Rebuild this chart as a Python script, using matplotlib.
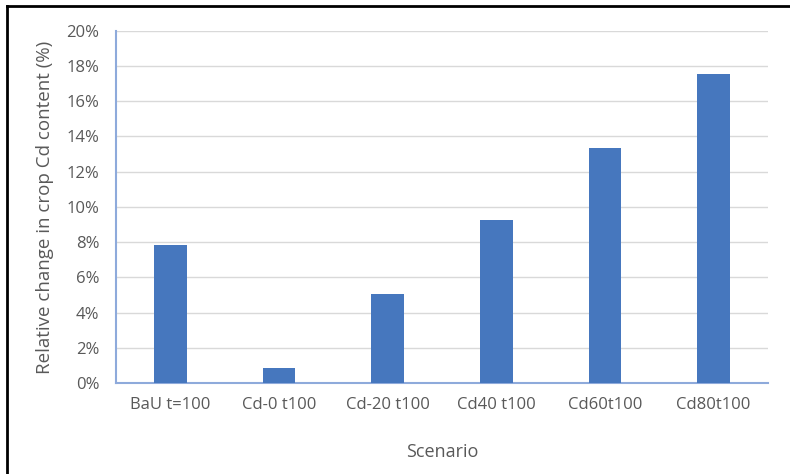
import matplotlib.pyplot as plt
from matplotlib.lines import Line2D
from matplotlib.ticker import PercentFormatter

scenarios = ['BaU t=100', 'Cd-0 t100', 'Cd-20 t100', 'Cd40 t100', 'Cd60t100', 'Cd80t100']
change_pct = [7.85, 0.85, 5.05, 9.25, 13.35, 17.55]
y_ticks = [0, 2, 4, 6, 8, 10, 12, 14, 16, 18, 20]

plt.rcParams['font.family'] = ['Open Sans', 'DejaVu Sans']

fig = plt.figure(figsize=(7.9, 4.74), dpi=100)
ax = fig.add_axes([0.147, 0.192, 0.825, 0.743])

x = range(len(scenarios))
ax.bar(x, change_pct, width=0.3, color='#4677BE', zorder=3)

ax.set_xlim(-0.5, len(scenarios) - 0.5)
ax.set_ylim(0, 20)
ax.set_yticks(y_ticks)
ax.yaxis.set_major_formatter(PercentFormatter(decimals=0))
ax.set_xticks(list(x))
ax.set_xticklabels(scenarios)

ax.grid(axis='y', color='#d9d9d9', lw=1.0, zorder=0)
ax.tick_params(length=0, labelsize=12, labelcolor='#595959')
ax.tick_params(axis='x', pad=10)
ax.tick_params(axis='y', pad=12)

for s in ['top', 'right']:
    ax.spines[s].set_visible(False)
for s in ['left', 'bottom']:
    ax.spines[s].set_color('#8eaadb')
    ax.spines[s].set_linewidth(1.5)

ax.set_xlabel('Scenario', fontsize=13, color='#595959', labelpad=22)
ax.set_ylabel('Relative change in crop Cd content (%)', fontsize=13.5, color='#595959', labelpad=9)

# outer frame (left and top edges visible)
fig.add_artist(Line2D([7 / 790, 7 / 790], [0, 1 - 6 / 474], transform=fig.transFigure, color='black', lw=2))
fig.add_artist(Line2D([7 / 790, 1], [1 - 6 / 474, 1 - 6 / 474], transform=fig.transFigure, color='black', lw=2))

fig.savefig('out.png', dpi=100)
